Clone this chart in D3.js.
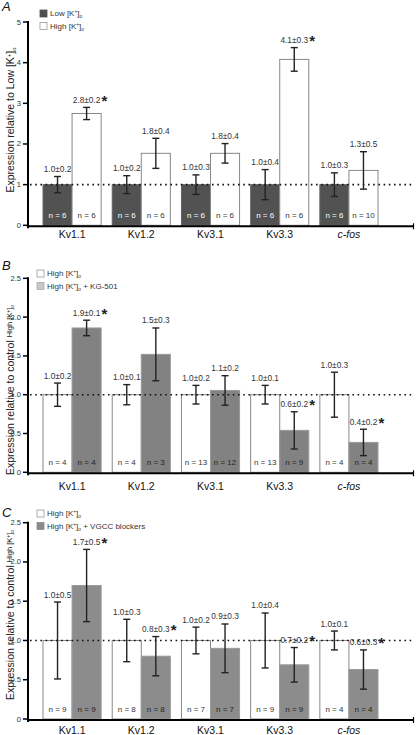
<!DOCTYPE html>
<html><head><meta charset="utf-8">
<script src="https://cdn.jsdelivr.net/npm/d3@7"></script>
<style>body{margin:0;background:#fff}svg{display:block;font-family:"Liberation Sans",Arial,sans-serif}</style>
</head><body>
<script>
const categories = ["Kv1.1","Kv1.2","Kv3.1","Kv3.3","c-fos"];

// Panel A
const aLowVals = [1.0,1.0,1.0,1.0,1.0];
const aLowErr = [0.2,0.22,0.24,0.37,0.29];
const aLowLabels = ["1.0±0.2","1.0±0.2","1.0±0.3","1.0±0.4","1.0±0.3"];
const aLowN = [6,6,6,6,6];
const aHighVals = [2.75,1.77,1.77,4.08,1.35];
const aHighErr = [0.15,0.37,0.24,0.29,0.46];
const aHighLabels = ["2.8±0.2","1.8±0.4","1.8±0.4","4.1±0.3","1.3±0.5"];
const aHighStars = [1,0,0,1,0];
const aHighN = [6,6,6,6,10];
const aTicks = [0,1,2,3,4,5];

// Panel B
const bCtrlVals = [1.0,1.0,1.0,1.0,1.0];
const bCtrlErr = [0.15,0.13,0.12,0.12,0.29];
const bCtrlLabels = ["1.0±0.2","1.0±0.1","1.0±0.2","1.0±0.1","1.0±0.3"];
const bCtrlN = [4,4,13,13,4];
const bKgVals = [1.86,1.52,1.055,0.54,0.385];
const bKgErr = [0.1,0.34,0.19,0.24,0.17];
const bKgLabels = ["1.9±0.1","1.5±0.3","1.1±0.2","0.6±0.2","0.4±0.2"];
const bKgStars = [1,0,0,1,1];
const bKgN = [4,3,12,9,4];

// Panel C
const cCtrlVals = [1.0,1.0,1.0,1.0,1.0];
const cCtrlErr = [0.49,0.27,0.17,0.35,0.12];
const cCtrlLabels = ["1.0±0.5","1.0±0.3","1.0±0.2","1.0±0.4","1.0±0.1"];
const cCtrlN = [9,8,7,9,4];
const cVgVals = [1.70,0.80,0.90,0.69,0.63];
const cVgErr = [0.46,0.25,0.31,0.22,0.25];
const cVgLabels = ["1.7±0.5","0.8±0.3","0.9±0.3","0.7±0.2","0.6±0.3"];
const cVgStars = [1,1,0,1,1];
const cVgN = [9,8,7,9,4];
const bcTicks = [0,0.5,1.0,1.5,2.0,2.5];

const svg = d3.select("body").append("svg").attr("width",416).attr("height",735);

const x = d3.scaleBand().domain(categories).range([43,378]).paddingInner(0.16).paddingOuter(0);
const xi = d3.scaleBand().domain([0,1]).range([0,x.bandwidth()]);

function kText(sel, pre, post, size){
  sel.append("tspan").text(pre + "[K");
  sel.append("tspan").attr("dy",-3).attr("font-size",size*0.6).text("+");
  sel.append("tspan").attr("dy",3).text("]");
  sel.append("tspan").attr("dy",2).attr("font-size",size*0.6).text("o");
  if (post) sel.append("tspan").attr("dy",-2).text(post);
}

function panel(cfg){
  const g = svg.append("g");
  const y = d3.scaleLinear().domain(cfg.domain).range(cfg.range);
  const y0 = cfg.range[0];
  cfg.series.forEach((s,si)=>{
    const gs = g.append("g");
    categories.forEach((c,i)=>{
      const bx = x(c)+xi(si), bw = xi.bandwidth();
      gs.append("rect").attr("x",bx).attr("y",y(s.vals[i])).attr("width",bw)
        .attr("height",y0-y(s.vals[i])).attr("fill",s.fill).attr("stroke",s.stroke).attr("stroke-width",1);
    });
  });
  g.append("line").attr("x1",30).attr("x2",412).attr("y1",y(1)).attr("y2",y(1))
    .attr("stroke","#111").attr("stroke-width",1.6).attr("stroke-dasharray","1.6,3.6");
  cfg.series.forEach((s,si)=>{
    categories.forEach((c,i)=>{
      const cx = x(c)+xi(si)+xi.bandwidth()/2;
      const top = y(s.vals[i]+s.errs[i]), bot = y(s.vals[i]-s.errs[i]);
      const eg = g.append("g").attr("stroke","#222").attr("stroke-width",1.4);
      eg.append("line").attr("x1",cx).attr("x2",cx).attr("y1",top).attr("y2",bot);
      eg.append("line").attr("x1",cx-3.5).attr("x2",cx+3.5).attr("y1",top).attr("y2",top);
      eg.append("line").attr("x1",cx-3.5).attr("x2",cx+3.5).attr("y1",bot).attr("y2",bot);
      g.append("text").attr("x",cx).attr("y",top-4.5).attr("text-anchor","middle")
        .attr("font-size",8.3).attr("fill","#333").text(s.labels[i]);
      if (s.stars && s.stars[i]) {
        g.append("text").attr("x",cx+15).attr("y",top-1.5).attr("font-size",15).attr("font-weight","bold").attr("fill","#222").text("*");
      }
      g.append("text").attr("x",cx).attr("y",y0-7).attr("text-anchor","middle")
        .attr("font-size",8).attr("fill",s.nColor).text("n = "+s.ns[i]);
    });
  });
  g.append("line").attr("x1",28).attr("x2",28).attr("y1",y(cfg.domain[1])-1).attr("y2",y0+3)
    .attr("stroke","#000").attr("stroke-width",2);
  g.append("line").attr("x1",27).attr("x2",414).attr("y1",y0+1).attr("y2",y0+1)
    .attr("stroke","#000").attr("stroke-width",2);
  g.append("line").attr("x1",413.5).attr("x2",413.5).attr("y1",y0-2).attr("y2",y0+4)
    .attr("stroke","#000").attr("stroke-width",1.2);
  cfg.ticks.forEach(t=>{
    g.append("line").attr("x1",23).attr("x2",28).attr("y1",y(t)).attr("y2",y(t)).attr("stroke","#000").attr("stroke-width",1.5);
    g.append("text").attr("x",21).attr("y",y(t)+2.5).attr("text-anchor","end").attr("font-size",7.5).attr("fill","#333")
      .text(cfg.tickFmt(t));
  });
  categories.forEach((c,i)=>{
    g.append("text").attr("x",x(c)+x.bandwidth()/2).attr("y",cfg.catY).attr("text-anchor","middle")
      .attr("font-size",10.5).attr("fill","#111").attr("font-style",c==="c-fos"?"italic":"normal").text(c);
  });
  g.append("text").attr("x",2).attr("y",cfg.letterY).attr("font-size",13).attr("font-style","italic").attr("fill","#111").text(cfg.letter);
  cfg.legend.forEach((L,k)=>{
    const ly = cfg.legY + k*12.5;
    g.append("rect").attr("x",cfg.legX).attr("y",ly-6).attr("width",7).attr("height",7)
      .attr("fill",L.fill).attr("stroke",L.stroke).attr("stroke-width",0.8);
    const t = g.append("text").attr("x",cfg.legX+10).attr("y",ly).attr("font-size",8).attr("fill","#333");
    kText(t, L.low ? "Low " : "High ", L.post, 8);
  });
  const yt = g.append("text").attr("transform",`translate(14,${cfg.titleY}) rotate(-90)`)
    .attr("text-anchor","middle").attr("font-size",10.5).attr("fill","#222");
  if (cfg.titleLow) {
    yt.append("tspan").text("Expression relative to  Low [K");
    yt.append("tspan").attr("dy",-3).attr("font-size",6).text("+");
    yt.append("tspan").attr("dy",3).text("]");
    yt.append("tspan").attr("dy",2).attr("font-size",6).text("o");
  } else {
    yt.append("tspan").text("Expression relative to control ");
    yt.append("tspan").attr("font-size",7.5).attr("dy",-2).text("High [K");
    yt.append("tspan").attr("dy",-2).attr("font-size",5).text("+");
    yt.append("tspan").attr("dy",2).attr("font-size",7.5).text("]");
    yt.append("tspan").attr("dy",2).attr("font-size",5).text("o");
  }
}

panel({
  domain:[0,5], range:[225.3,22], ticks:aTicks, tickFmt:d3.format("d"), catY:238,
  letter:"A", letterY:11, legX:40, legY:16, titleY:120, titleLow:true,
  legend:[{fill:"#505050",stroke:"#505050",low:true},{fill:"#fff",stroke:"#999"}],
  series:[
    {vals:aLowVals,errs:aLowErr,labels:aLowLabels,ns:aLowN,fill:"#525252",stroke:"#666",nColor:"#fff"},
    {vals:aHighVals,errs:aHighErr,labels:aHighLabels,stars:aHighStars,ns:aHighN,fill:"#fff",stroke:"#888",nColor:"#333"}
  ]
});
panel({
  domain:[0,2.5], range:[472.3,278.3], ticks:bcTicks, tickFmt:t=>t===0?"0":d3.format(".1f")(t), catY:490,
  letter:"B", letterY:270, legX:37, legY:276, titleY:390, titleLow:false,
  legend:[{fill:"#fff",stroke:"#999"},{fill:"#c8c8c8",stroke:"#aaa",post:" + KG-501"}],
  series:[
    {vals:bCtrlVals,errs:bCtrlErr,labels:bCtrlLabels,ns:bCtrlN,fill:"#fff",stroke:"#888",nColor:"#333"},
    {vals:bKgVals,errs:bKgErr,labels:bKgLabels,stars:bKgStars,ns:bKgN,fill:"#828282",stroke:"#9a9a9a",nColor:"#222"}
  ]
});
panel({
  domain:[0,2.5], range:[719,522.7], ticks:bcTicks, tickFmt:t=>t===0?"0":d3.format(".1f")(t), catY:734,
  letter:"C", letterY:517, legX:37, legY:516, titleY:615, titleLow:false,
  legend:[{fill:"#fff",stroke:"#999"},{fill:"#8a8a8a",stroke:"#8a8a8a",post:" + VGCC blockers"}],
  series:[
    {vals:cCtrlVals,errs:cCtrlErr,labels:cCtrlLabels,ns:cCtrlN,fill:"#fff",stroke:"#888",nColor:"#333"},
    {vals:cVgVals,errs:cVgErr,labels:cVgLabels,stars:cVgStars,ns:cVgN,fill:"#8c8c8c",stroke:"#9a9a9a",nColor:"#222"}
  ]
});
</script>
</body></html>
